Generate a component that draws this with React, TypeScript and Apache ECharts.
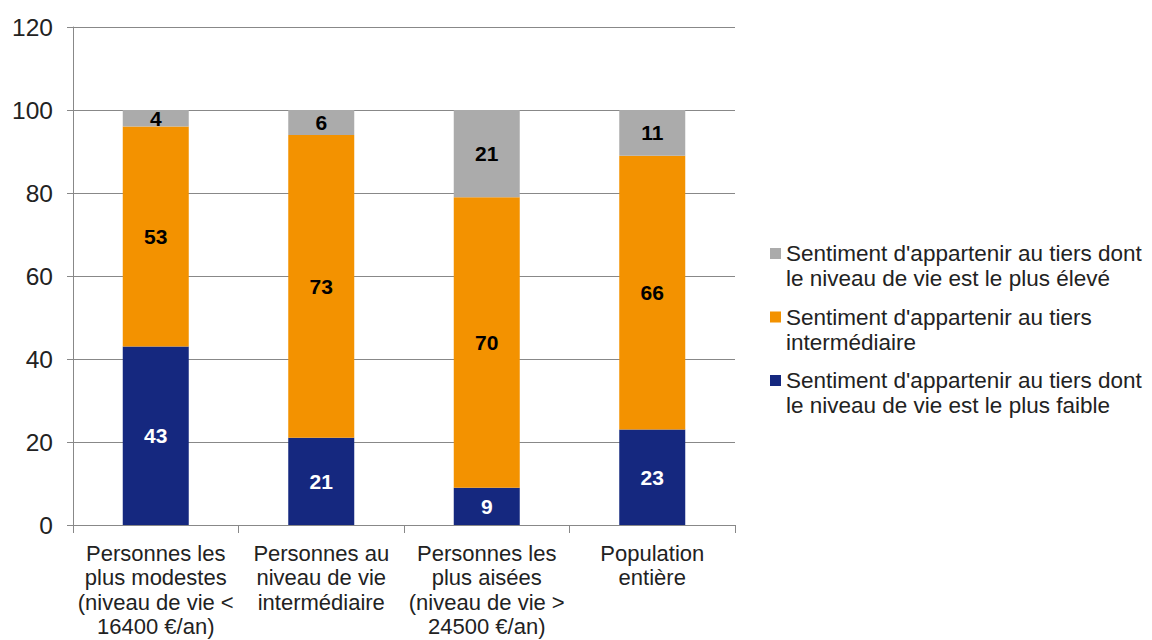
import React, { useEffect, useRef } from "react";
import * as echarts from "echarts";

const categories = [
  "Personnes les\nplus modestes\n(niveau de vie <\n16400 €/an)",
  "Personnes au\nniveau de vie\nintermédiaire",
  "Personnes les\nplus aisées\n(niveau de vie >\n24500 €/an)",
  "Population\nentière",
];
const seriesNames = [
  "Sentiment d'appartenir au tiers dont\nle niveau de vie est le plus faible",
  "Sentiment d'appartenir au tiers\nintermédiaire",
  "Sentiment d'appartenir au tiers dont\nle niveau de vie est le plus élevé",
];
const lowValues = [43, 21, 9, 23];
const midValues = [53, 73, 70, 66];
const highValues = [4, 6, 21, 11];
const colors = ["#15287f", "#f39200", "#ababab"];
const labelColors = ["#ffffff", "#000000", "#000000"];
const FONT = "'Liberation Sans', Arial, sans-serif";

export default function App() {
  const ref = useRef<HTMLDivElement>(null);
  useEffect(() => {
    document.body.style.margin = "0";
    const chart = echarts.init(ref.current!, null, { renderer: "svg" });
    const data = [lowValues, midValues, highValues];
    chart.setOption({
      animation: false,
      backgroundColor: "#ffffff",
      textStyle: { fontFamily: FONT },
      grid: { left: 73, right: 417, top: 27, bottom: 115, containLabel: false },
      legend: {
        orient: "vertical",
        left: 770,
        top: 241,
        padding: 0,
        itemWidth: 11,
        itemHeight: 36,
        itemGap: 13.5,
        icon: "path://M0,0h11v11h-11z M0,36h0.001",
        data: [seriesNames[2], seriesNames[1], seriesNames[0]],
        textStyle: { fontSize: 22.5, color: "#222", lineHeight: 25, fontFamily: FONT },
      },
      xAxis: {
        type: "category",
        data: categories,
        axisLine: { lineStyle: { color: "#888", width: 1 } },
        axisTick: { show: true, length: 8, lineStyle: { color: "#888" } },
        axisLabel: {
          color: "#222",
          fontSize: 22,
          lineHeight: 24.5,
          margin: 16,
          interval: 0,
          fontFamily: FONT,
        },
      },
      yAxis: {
        type: "value",
        min: 0,
        max: 120,
        interval: 20,
        axisLine: { show: true, lineStyle: { color: "#888" } },
        axisTick: { show: true, length: 6, lineStyle: { color: "#888" } },
        splitLine: { lineStyle: { color: "#888", width: 1 } },
        axisLabel: { color: "#222", fontSize: 24.5, margin: 20, fontFamily: FONT },
      },
      series: data.map((vals, i) => ({
        name: seriesNames[i],
        type: "bar",
        stack: "total",
        barWidth: 66,
        data: vals,
        itemStyle: { color: colors[i] },
        label: {
          show: true,
          position: "inside",
          color: labelColors[i],
          fontSize: 21,
          fontWeight: "bold",
          fontFamily: FONT,
        },
      })),
    });
    return () => chart.dispose();
  }, []);
  return <div ref={ref} style={{ width: 1152, height: 640 }} />;
}
